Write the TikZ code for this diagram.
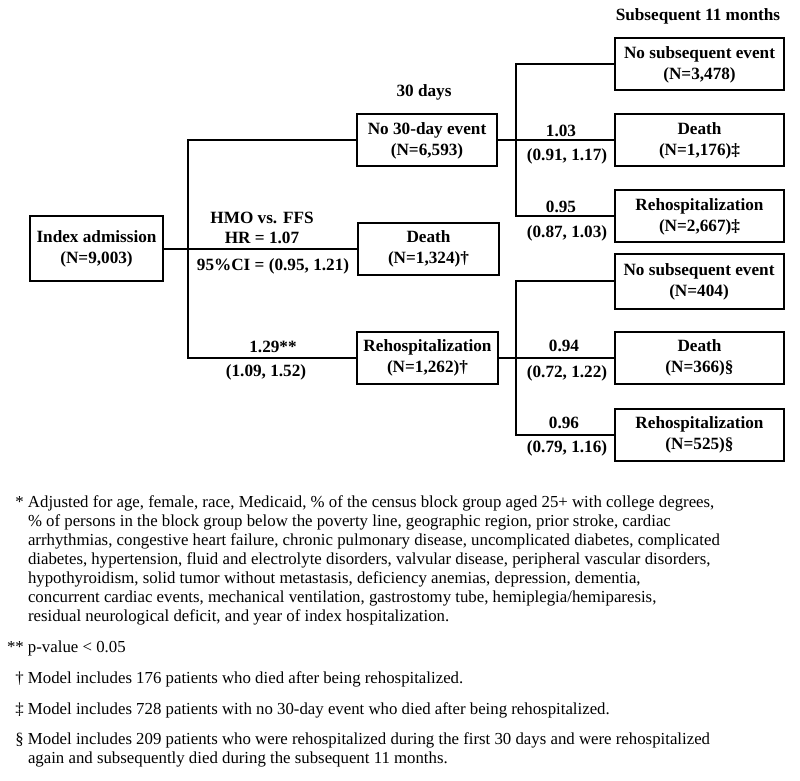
\documentclass[tikz,border=0pt]{standalone}
\usepackage{fontspec}
\setmainfont{Liberation Serif}
\tikzset{
    box/.style={draw, line width=1pt, align=center, inner sep=0pt,
        minimum width=84.5pt, minimum height=26pt,
        font=\bfseries\fontsize{8.6}{10.5}\selectfont},
    lbl/.style={inner sep=0pt, font=\bfseries\fontsize{8.6}{10.5}\selectfont},
    note/.style={inner sep=0pt, align=left, anchor=west,
        font=\fontsize{8.4}{9.5}\selectfont},
}
\begin{document}
\begin{tikzpicture}[x=0.5pt, y=-0.5pt, line width=1pt]
    \useasboundingbox (0,0) rectangle (800,781);
    % headings
    \node[lbl] (h30) at (424,92) {30 days};
    \node[lbl] (h11) at (698,16) {Subsequent 11 months};
    % first split
    \node[box, minimum width=66.5pt, minimum height=32.5pt] (index) at (96.5,249) {Index admission\\(N=9,003)};
    \node[box, minimum width=70pt] (none30) at (427,140.5) {No 30-day event\\(N=6,593)};
    \node[box, minimum width=70.5pt] (death30) at (428.5,249) {Death\\(N=1,324)\dag};
    \node[box, minimum width=70.5pt] (rehosp30) at (427.5,358) {Rehospitalization\\(N=1,262)\dag};
    \coordinate (t0) at (188,249);
    \draw (index.east) -- (death30.west);
    \draw (t0) |- (none30.west);
    \draw (t0) |- (rehosp30.west);
    \node[lbl] (hmo) at (262,218) {HMO vs. FFS};
    \node[lbl] (hr) at (262,238) {HR = 1.07};
    \node[lbl] (ci) at (273,266) {95\%CI = (0.95, 1.21)};
    \node[lbl] (hr3) at (273,347) {1.29**};
    \node[lbl] (ci3) at (266,372) {(1.09, 1.52)};
    % after no 30-day event
    \node[box] (none1) at (699.5,64.5) {No subsequent event\\(N=3,478)};
    \node[box] (death1) at (699.5,140.5) {Death\\(N=1,176)\ddag};
    \node[box] (rehosp1) at (699.5,216.5) {Rehospitalization\\(N=2,667)\ddag};
    \coordinate (t1) at (516,140.5);
    \draw (none30.east) -- (death1.west);
    \draw (t1) |- (none1.west);
    \draw (t1) |- (rehosp1.west);
    \node[lbl] (hr12) at (561,130.5) {1.03};
    \node[lbl] (ci12) at (567,156) {(0.91, 1.17)};
    \node[lbl] (hr13) at (561,207) {0.95};
    \node[lbl] (ci13) at (567,233) {(0.87, 1.03)};
    % after rehospitalization
    \node[box, minimum height=27.5pt] (none2) at (699,281.5) {No subsequent event\\(N=404)};
    \node[box] (death2) at (699.5,358) {Death\\(N=366)\S};
    \node[box] (rehosp2) at (699.5,435) {Rehospitalization\\(N=525)\S};
    \coordinate (t2) at (516,358);
    \draw (rehosp30.east) -- (death2.west);
    \draw (t2) |- (none2.west);
    \draw (t2) |- (rehosp2.west);
    \node[lbl] (hr32) at (564,346) {0.94};
    \node[lbl] (ci32) at (567,373) {(0.72, 1.22)};
    \node[lbl] (hr33) at (564,422.5) {0.96};
    \node[lbl] (ci33) at (567,448) {(0.79, 1.16)};
    % footnotes
    \node[note] (fn1) at (27,560) {\llap{* }Adjusted for age, female, race, Medicaid, \% of the census block group aged 25+ with college degrees,\\
        \% of persons in the block group below the poverty line, geographic region, prior stroke, cardiac\\
        arrhythmias, congestive heart failure, chronic pulmonary disease, uncomplicated diabetes, complicated\\
        diabetes, hypertension, fluid and electrolyte disorders, valvular disease, peripheral vascular disorders,\\
        hypothyroidism, solid tumor without metastasis, deficiency anemias, depression, dementia,\\
        concurrent cardiac events, mechanical ventilation, gastrostomy tube, hemiplegia/hemiparesis,\\
        residual neurological deficit, and year of index hospitalization.};
    \node[note] (fn2) at (27,648) {\llap{** }p-value < 0.05};
    \node[note] (fn3) at (27,679) {\llap{\dag\ }Model includes 176 patients who died after being rehospitalized.};
    \node[note] (fn4) at (27,710) {\llap{\ddag\ }Model includes 728 patients with no 30-day event who died after being rehospitalized.};
    \node[note] (fn5) at (27,750) {\llap{\S\ }Model includes 209 patients who were rehospitalized during the first 30 days and were rehospitalized\\
        again and subsequently died during the subsequent 11 months.};
\end{tikzpicture}
\end{document}
